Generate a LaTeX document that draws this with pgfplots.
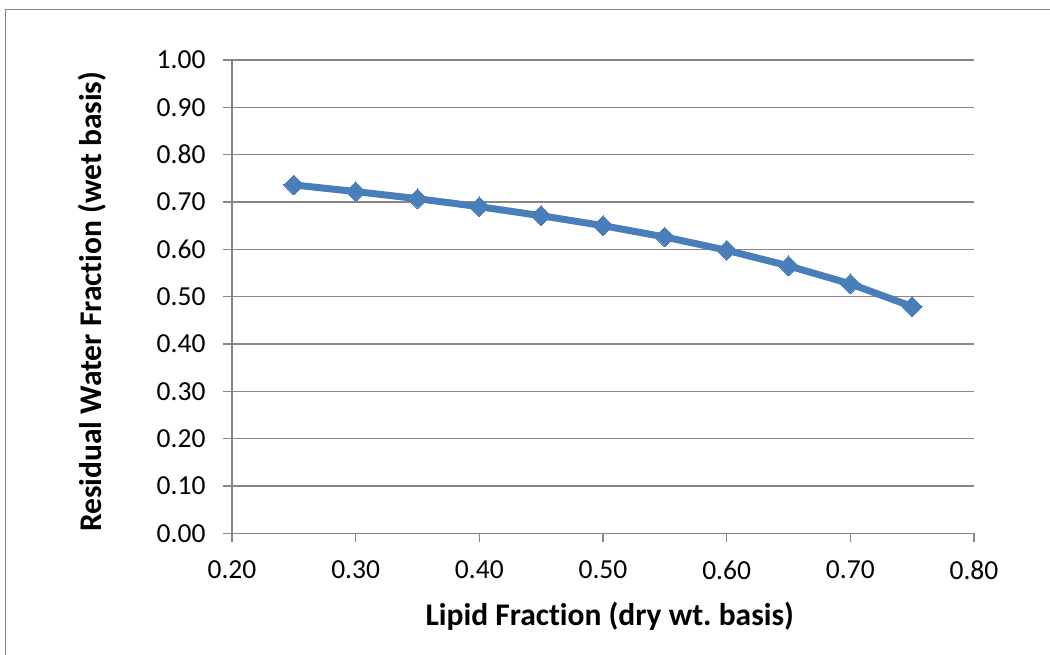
\documentclass[border=0pt]{standalone}
\usepackage{pgfplots}
\pgfplotsset{compat=1.18}
\usepackage{fontspec}
\setmainfont{Carlito}[Ligatures=NoCommon]
\frenchspacing
\definecolor{series}{RGB}{74,126,187}
\definecolor{gridgray}{RGB}{134,134,134}
\definecolor{bordergray}{RGB}{134,134,134}
\begin{document}
\begin{tikzpicture}[x=1pt,y=1pt]
\useasboundingbox (0,0) rectangle (1050,655);
\draw[bordergray, line width=1.5pt] (5.5,0) -- (5.5,645.7) -- (1050,645.7);
\begin{axis}[
  at={(232pt,121.7pt)}, anchor=south west,
  scale only axis, width=742pt, height=473.3pt,
  xmin=0.2, xmax=0.8, ymin=0, ymax=1,
  xtick={0.2,0.3,...,0.8}, ytick={0,0.1,...,1.0},
  axis x line*=bottom, axis y line*=left,
  axis line style={gridgray, line width=1.5pt, -},
  major tick length=9pt, tick align=outside,
  tick style={gridgray, line width=1.5pt},
  ymajorgrids, grid style={gridgray, line width=1.5pt},
  font=\fontsize{27.5}{32}\selectfont,
  /pgf/number format/assume math mode=true,
  xticklabel={\pgfmathprintnumber[fixed,fixed zerofill,precision=2]{\tick}},
  yticklabel={\pgfmathprintnumber[fixed,fixed zerofill,precision=2]{\tick}},
  yticklabel style={xshift=-14pt},
  xticklabel style={yshift=-15pt},
  xlabel={\fontsize{31.5}{36}\selectfont\bfseries Lipid Fraction (dry wt. basis)},
  ylabel={\fontsize{31.5}{36}\selectfont\bfseries Residual Water Fraction (wet basis)},
  every axis x label/.style={at={(axis description cs:0.509,0)}, anchor=center, yshift=-82.7pt},
  every axis y label/.style={at={(axis description cs:0,0.489)}, anchor=center, rotate=90, yshift=140pt},
  clip=false,
]
\addplot[series, line width=7pt, mark=square*, mark size=7pt, mark options={rotate=45, fill=series, draw=series, line width=0pt}]
coordinates {
(0.25,0.736) (0.30,0.722) (0.35,0.707) (0.40,0.690) (0.45,0.671)
(0.50,0.650) (0.55,0.626) (0.60,0.598) (0.65,0.565) (0.70,0.527) (0.75,0.479)
};
\end{axis}
\end{tikzpicture}
\end{document}
